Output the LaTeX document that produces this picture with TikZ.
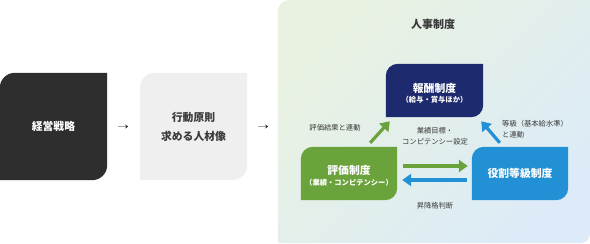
\documentclass[tikz,border=0pt]{standalone}
\usepackage{fontspec}
\setmainfont{Noto Sans CJK JP}
\usetikzlibrary{arrows.meta,calc,backgrounds}
\definecolor{darkbox}{HTML}{2E2E2E}
\definecolor{graybox}{HTML}{EFEFEF}
\definecolor{navy}{HTML}{1E2A6E}
\definecolor{grn}{HTML}{6AA23C}
\definecolor{blu}{HTML}{2190D4}
\definecolor{pg}{HTML}{E9F2E1}
\definecolor{pb}{HTML}{DCEBF7}
\definecolor{txt}{HTML}{3A3A3A}
\newcommand\leaffill[3]{%
  \fill[#2] (#1.south west) -- ($(#1.north west)+(0,#3)$)
    .. controls ($(#1.north west)+(0,0.45*#3)$) and ($(#1.north west)+(0.45*#3,0)$) .. ($(#1.north west)+(#3,0)$)
    -- (#1.north east) -- ($(#1.south east)+(0,-#3)$)
    .. controls ($(#1.south east)+(0,-0.45*#3)$) and ($(#1.south east)+(-0.45*#3,0)$) .. ($(#1.south east)+(-#3,0)$)
    -- cycle;}
\tikzset{
  boxnode/.style={inner sep=0pt, align=center, font=\fontsize{10.8}{19}\selectfont\bfseries},
  lbl/.style={inner sep=0pt, text=txt, font=\fontsize{7.3}{11}\selectfont},
  thin arrow/.style={draw=gray!70, line width=0.7pt, -{Stealth[length=3pt,width=4pt,color=gray!40!black]}},
  fat arrow/.style={line width=3.2pt, -{Triangle[length=9pt,width=12pt]}},
}
\begin{document}
\begin{tikzpicture}[x=1pt,y=-1pt]
\useasboundingbox (0,0) rectangle (590,244);
% panel
\node[inner sep=0pt, minimum width=312pt, minimum height=243pt] (panel) at (434,121.5) {};
\node[boxnode, text=txt, font=\fontsize{11}{13}\selectfont\bfseries] (title) at (433,24) {人事制度};
% left boxes
\node[boxnode, text=white, minimum width=107pt, minimum height=107pt] (strat) at (53.5,126.5) {経営戦略};
\node[boxnode, text=txt, minimum width=107pt, minimum height=107pt] (prin) at (193.5,126.5) {行動原則\\求める人材像};
% system boxes
\node[boxnode, text=white, minimum width=97pt, minimum height=53pt] (pay) at (434.5,90.5) {};
\node[boxnode, text=white] (paytxt) at (434.5,88.3) {報酬制度};
\node[boxnode, text=white, font=\fontsize{7.3}{9}\selectfont\bfseries] (paysub) at (434.5,99.5) {（給与・賞与ほか）};
\node[boxnode, text=white, minimum width=96pt, minimum height=53pt] (eval) at (349,173.5) {};
\node[boxnode, text=white] (evaltxt) at (349,170) {評価制度};
\node[boxnode, text=white, font=\fontsize{7.3}{9}\selectfont\bfseries] (evalsub) at (349,183) {（業績・コンピテンシー）};
\node[boxnode, text=white, minimum width=96pt, minimum height=53pt] (grade) at (520,173.5) {役割等級制度};
% labels
\node[lbl] (l1) at (335,128) {評価結果と連動};
\node[lbl, align=center] (l2) at (435,136.5) {業績目標・\\コンピテンシー設定};
\node[lbl, align=left, anchor=west] (l3) at (502,129) {等級（基本給水準）\\と連動};
\node[lbl] (l4) at (435,206) {昇降格判断};
% small arrows
\draw[thin arrow] ([xshift=11pt]strat.east) -- ([xshift=21pt]strat.east);
\draw[thin arrow] ([xshift=11pt]prin.east) -- ([xshift=21pt]prin.east);
% fat arrows
\draw[fat arrow, grn] ($(eval.north east)+(-27,-4)$) -- ($(pay.south west)+(4,4)$);
\draw[fat arrow, blu] ($(grade.north west)+(28,-4)$) -- ($(pay.south east)+(-2,4)$);
\draw[fat arrow, grn] ($(eval.east)+(6,-7.5)$) -- ($(grade.west)+(-4,-7.5)$);
\draw[fat arrow, blu] ($(grade.west)+(-5,6.5)$) -- ($(eval.east)+(5,6.5)$);
\begin{pgfonlayer}{background}
  \shade[shading=axis, bottom color=pg, top color=pb, shading angle=-135]
    (panel.south west) -- ($(panel.north west)+(0,12)$)
    .. controls ($(panel.north west)+(0,5.4)$) and ($(panel.north west)+(5.4,0)$) .. ($(panel.north west)+(12,0)$)
    -- (panel.north east) -- ($(panel.south east)+(0,-10)$)
    .. controls ($(panel.south east)+(0,-4.5)$) and ($(panel.south east)+(-4.5,0)$) .. ($(panel.south east)+(-10,0)$)
    -- cycle;
  \leaffill{strat}{darkbox}{15}
  \leaffill{prin}{graybox}{15}
  \leaffill{pay}{navy}{12}
  \leaffill{eval}{grn}{12}
  \leaffill{grade}{blu}{12}
\end{pgfonlayer}
\end{tikzpicture}
\end{document}
